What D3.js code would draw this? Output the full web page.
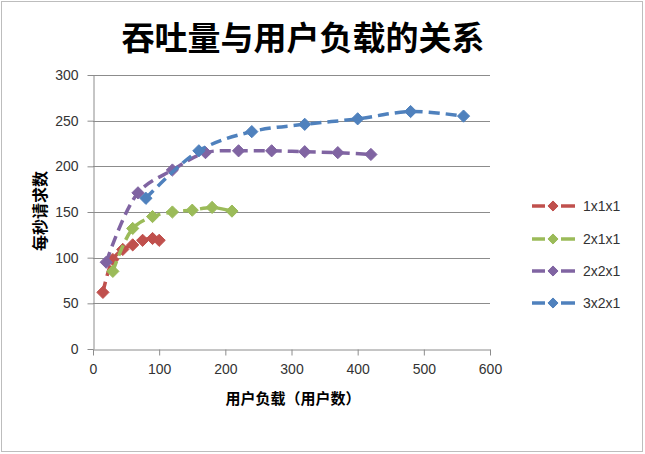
<!DOCTYPE html>
<html><head><meta charset="utf-8">
<script src="https://cdn.jsdelivr.net/npm/d3@7/dist/d3.min.js"></script>
<style>
html,body{margin:0;padding:0;background:#fff;}
svg{display:block;font-family:"Liberation Sans","DejaVu Sans",sans-serif;}
</style></head>
<body><svg id="c" width="645" height="454"></svg>
<script>
const seriesNames = ["1x1x1","2x1x1","2x2x1","3x2x1"];
const seriesColors = ["#C0504D","#9BBB59","#8064A2","#4F81BD"];
const users1 = [15,30,45,60,75,90,100];
const tput1  = [62,98,109,114,119,121,119];
const users2 = [30,60,90,120,150,180,210];
const tput2  = [85,132,145,150,152,155,151];
const users3 = [20,68,120,170,220,270,320,370,420];
const tput3  = [95,171,196,215,217,217,216,215,213];
const users4 = [80,160,240,320,400,480,560];
const tput4  = [165,217,238,246,252,260,255];
const xTicks = [0,100,200,300,400,500,600];
const yTicks = [0,50,100,150,200,250,300];
const title = "吞吐量与用户负载的关系";
const xTitle = "用户负载（用户数）";
const yTitle = "每秒请求数";

const series = [
  {name:seriesNames[0], color:seriesColors[0], xs:users1, ys:tput1},
  {name:seriesNames[1], color:seriesColors[1], xs:users2, ys:tput2},
  {name:seriesNames[2], color:seriesColors[2], xs:users3, ys:tput3},
  {name:seriesNames[3], color:seriesColors[3], xs:users4, ys:tput4}
];

const svg = d3.select("#c");
svg.append("rect").attr("x",1.5).attr("y",1.5).attr("width",641).attr("height",450)
  .attr("fill","#fff").attr("stroke","#bdbdbd").attr("stroke-width",1);

const L=93, R=490, T=75, B=349;
const x = d3.scaleLinear().domain([0,600]).range([L,R]);
const y = d3.scaleLinear().domain([0,300]).range([B,T]);

svg.append("g").selectAll("line").data(yTicks.filter(d=>d>0)).join("line")
  .attr("x1",L).attr("x2",R).attr("y1",d=>Math.round(y(d))+0.5).attr("y2",d=>Math.round(y(d))+0.5)
  .attr("stroke","#8c8c8c").attr("stroke-width",1);

const axisStyle = g=>{
  g.selectAll("path").attr("stroke","#8c8c8c");
  g.selectAll("line").attr("stroke","#8c8c8c");
  g.selectAll("text").attr("fill","#333").attr("font-size","14px")
    .attr("font-family","'Liberation Sans','DejaVu Sans',sans-serif");
};
svg.append("g").attr("transform",`translate(${L+0.5},0)`)
  .call(d3.axisLeft(y).tickValues(yTicks).tickSize(6).tickSizeOuter(0).tickPadding(9))
  .call(axisStyle);
svg.append("g").attr("transform",`translate(0,${B+0.5})`)
  .call(d3.axisBottom(x).tickValues(xTicks).tickSize(6).tickSizeOuter(0).tickPadding(9))
  .call(axisStyle);

const line = d3.line().x(d=>x(d[0])).y(d=>y(d[1])).curve(d3.curveCatmullRom.alpha(0.5));
const diamond = d3.symbol().type(d3.symbolDiamond2).size(95);
series.forEach(s=>{
  const pts = s.xs.map((v,i)=>[v,s.ys[i]]);
  svg.append("path").attr("d",line(pts)).attr("fill","none")
    .attr("stroke",s.color).attr("stroke-width",3.5).attr("stroke-dasharray","11,6");
  svg.append("g").selectAll("path").data(pts).join("path")
    .attr("d",diamond).attr("transform",d=>`translate(${x(d[0])},${y(d[1])})`)
    .attr("fill",s.color).attr("stroke",s.color).attr("stroke-width",1);
});

const legY = [206,239,271,303];
const leg = svg.append("g");
series.forEach((s,i)=>{
  const g = leg.append("g").attr("transform",`translate(0,${legY[i]})`);
  g.append("line").attr("x1",532).attr("x2",545).attr("stroke",s.color).attr("stroke-width",3.5);
  g.append("line").attr("x1",561).attr("x2",575).attr("stroke",s.color).attr("stroke-width",3.5);
  g.append("path").attr("d",d3.symbol().type(d3.symbolDiamond2).size(65)).attr("transform","translate(553,0)")
    .attr("fill",s.color).attr("stroke",s.color);
  g.append("text").attr("x",583).attr("y",0).attr("dy","0.35em").attr("font-size","14px")
    .attr("fill","#333").text(s.name);
});

svg.append("text").attr("x",303).attr("y",38).attr("dy","0.35em").attr("text-anchor","middle")
  .attr("font-family","'Noto Sans CJK SC',sans-serif").attr("font-weight","bold")
  .attr("font-size","33px").attr("fill","#000").text(title);
svg.append("text").attr("x",293).attr("y",399).attr("dy","0.35em").attr("text-anchor","middle")
  .attr("font-family","'Noto Sans CJK SC',sans-serif").attr("font-weight","bold")
  .attr("font-size","15px").attr("fill","#000").text(xTitle);
svg.append("text").attr("transform","translate(40,211) rotate(-90)").attr("dy","0.35em")
  .attr("text-anchor","middle")
  .attr("font-family","'Noto Sans CJK SC',sans-serif").attr("font-weight","bold")
  .attr("font-size","16px").attr("fill","#000").text(yTitle);
</script></body></html>
